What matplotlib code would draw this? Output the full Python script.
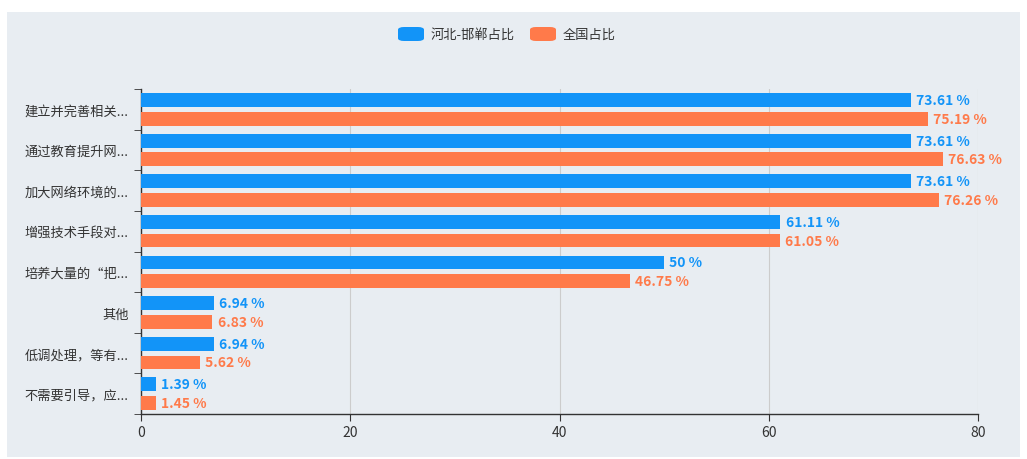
import matplotlib
matplotlib.use("Agg")
import matplotlib.pyplot as plt
from matplotlib.patches import Rectangle, FancyBboxPatch
import numpy as np

plt.rcParams['font.family'] = ['Noto Sans CJK SC', 'DejaVu Sans']

categories = ["建立并完善相关...", "通过教育提升网...", "加大网络环境的...", "增强技术手段对...",
              "培养大量的“把...", "其他", "低调处理，等有...", "不需要引导，应..."]
series_names = ["河北-邯郸占比", "全国占比"]
handan = [73.61, 73.61, 73.61, 61.11, 50, 6.94, 6.94, 1.39]
national = [75.19, 76.63, 76.26, 61.05, 46.75, 6.83, 5.62, 1.45]
x_ticks = [0, 20, 40, 60, 80]

BLUE = "#1294F8"
ORANGE = "#FF7A4A"
BG = "#E8EDF2"

W, H = 1027, 460
fig = plt.figure(figsize=(W / 100, H / 100), dpi=100)
fig.patch.set_facecolor("white")
fig.patches.append(Rectangle((7 / W, 1 - 458 / H), (1020 - 7) / W, (458 - 13) / H,
                             transform=fig.transFigure, facecolor=BG, edgecolor="none", zorder=-5))

ax = fig.add_axes([141 / W, 1 - 415 / H, (978 - 141) / W, (415 - 90) / H])
ax.set_zorder(2)
ax.set_facecolor(BG)

y = np.arange(len(categories))
h = 0.34
off = 0.23
ax.barh(y - off, handan, height=h, color=BLUE, zorder=3)
ax.barh(y + off, national, height=h, color=ORANGE, zorder=3)

for yi, v in zip(y, handan):
    ax.text(v + 0.5, yi - off, f"{v:g} %", color=BLUE, fontsize=10, fontweight="bold",
            va="center", ha="left", zorder=4)
for yi, v in zip(y, national):
    ax.text(v + 0.5, yi + off, f"{v:g} %", color=ORANGE, fontsize=10, fontweight="bold",
            va="center", ha="left", zorder=4)

ax.set_xlim(0, 80)
ax.set_ylim(len(categories) - 0.5, -0.5)
ax.set_xticks(x_ticks)
ax.set_xticklabels([str(t) for t in x_ticks], fontsize=10, color="#333333")
ax.set_yticks(y)
ax.set_yticklabels(categories, fontsize=9.5, color="#333333")
ax.tick_params(axis="y", length=0, pad=9)
ax.set_yticks(np.arange(len(categories) + 1) - 0.5, minor=True)
ax.tick_params(axis="y", which="minor", length=5, color="#333333")
ax.tick_params(axis="x", length=5, color="#333333", pad=3)

ax.grid(axis="x", color="#CCCCCC", linewidth=0.8, zorder=0)
ax.set_axisbelow(True)
for s in ["top", "right"]:
    ax.spines[s].set_visible(False)
for s in ["left", "bottom"]:
    ax.spines[s].set_color("#333333")
    ax.spines[s].set_linewidth(1)

# legend
def legend_item(x0, color, label):
    fig.patches.append(FancyBboxPatch((x0 / W, 1 - 42 / H), 26 / W, 14 / H,
                                      boxstyle="round,pad=0,rounding_size=0.006",
                                      transform=fig.transFigure, facecolor=color,
                                      edgecolor="none", zorder=3))
    fig.text((x0 + 33) / W, 1 - 35 / H, label, fontsize=9.5, color="#333333",
             va="center", ha="left", zorder=3)

legend_item(398, BLUE, series_names[0])
legend_item(530, ORANGE, series_names[1])

fig.savefig("out.png", dpi=100, facecolor="white")
